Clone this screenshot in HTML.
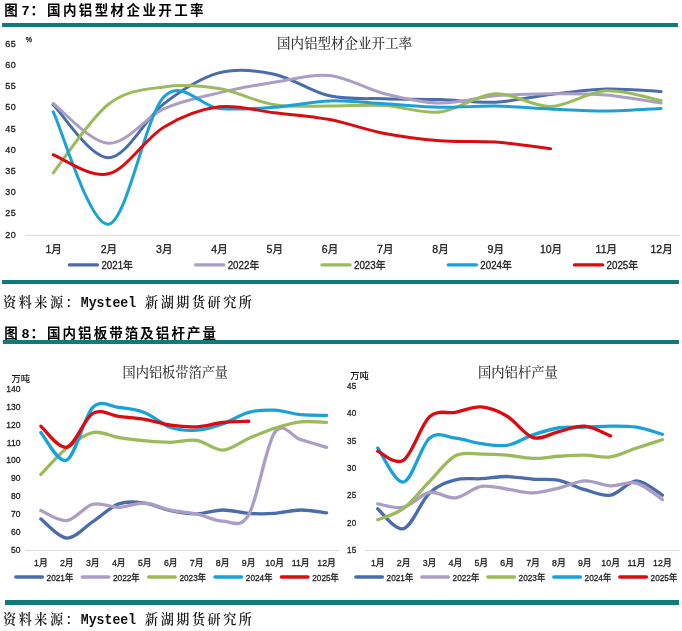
<!DOCTYPE html>
<html lang="zh-CN"><head><meta charset="utf-8"><title>国内铝型材企业开工率</title>
<style>
html,body{margin:0;padding:0;background:#fff;}
#pg{position:relative;width:682px;height:631px;overflow:hidden;background:#fff;}
.bar{position:absolute;background:#0f7a76;}
svg{position:absolute;left:0;top:0;}
svg text[fill="#222"]{stroke:#222;stroke-width:.3px;}
</style></head><body><div id="pg">
<div class="bar" style="left:2px;top:23px;width:676px;height:4px"></div>
<div class="bar" style="left:2px;top:280px;width:677px;height:4px"></div>
<div class="bar" style="left:3px;top:340px;width:676px;height:4px"></div>
<div class="bar" style="left:5px;top:600.3px;width:673.8px;height:4.4px"></div>
<svg width="682" height="631" viewBox="0 0 682 631" font-family="&quot;Liberation Sans&quot;, &quot;Noto Sans CJK SC&quot;, sans-serif">
<text x="4.3" y="14.60" font-weight="bold" font-size="13.5" fill="#000">图 <tspan x="21.8">7</tspan><tspan x="30.5">：</tspan><tspan x="47" letter-spacing="2.4">国内铝型材企业开工率</tspan></text>
<text x="4.3" y="338.20" font-weight="bold" font-size="13.5" fill="#000">图 <tspan x="21.8">8</tspan><tspan x="30.5">：</tspan><tspan x="47" letter-spacing="2.05">国内铝板带箔及铝杆产量</tspan></text>
<text x="3.00" y="307.40" font-family="&quot;Noto Serif CJK SC&quot;, serif" font-weight="600" font-size="13.1" fill="#111" letter-spacing="2.55">资料来源：</text>
<text transform="translate(80.8 306.60) scale(1 1.1)" font-family="&quot;Liberation Mono&quot;, monospace" font-weight="bold" font-size="13.2" fill="#111">Mysteel</text>
<text x="145.00" y="307.40" font-family="&quot;Noto Serif CJK SC&quot;, serif" font-weight="600" font-size="13.1" fill="#111" letter-spacing="2.55">新湖期货研究所</text>
<text x="3.00" y="623.80" font-family="&quot;Noto Serif CJK SC&quot;, serif" font-weight="600" font-size="13.1" fill="#111" letter-spacing="2.55">资料来源：</text>
<text transform="translate(80.8 623.90) scale(1 1.1)" font-family="&quot;Liberation Mono&quot;, monospace" font-weight="bold" font-size="13.2" fill="#111">Mysteel</text>
<text x="145.00" y="623.80" font-family="&quot;Noto Serif CJK SC&quot;, serif" font-weight="600" font-size="13.1" fill="#111" letter-spacing="2.55">新湖期货研究所</text>
<text x="16.30" y="237.60" text-anchor="end" font-size="9" letter-spacing="0.5" fill="#222">20</text>
<text x="16.30" y="216.40" text-anchor="end" font-size="9" letter-spacing="0.5" fill="#222">25</text>
<text x="16.30" y="195.20" text-anchor="end" font-size="9" letter-spacing="0.5" fill="#222">30</text>
<text x="16.30" y="174.00" text-anchor="end" font-size="9" letter-spacing="0.5" fill="#222">35</text>
<text x="16.30" y="152.80" text-anchor="end" font-size="9" letter-spacing="0.5" fill="#222">40</text>
<text x="16.30" y="131.60" text-anchor="end" font-size="9" letter-spacing="0.5" fill="#222">45</text>
<text x="16.30" y="110.40" text-anchor="end" font-size="9" letter-spacing="0.5" fill="#222">50</text>
<text x="16.30" y="89.20" text-anchor="end" font-size="9" letter-spacing="0.5" fill="#222">55</text>
<text x="16.30" y="68.00" text-anchor="end" font-size="9" letter-spacing="0.5" fill="#222">60</text>
<text x="16.30" y="46.80" text-anchor="end" font-size="9" letter-spacing="0.5" fill="#222">65</text>
<text x="25.80" y="42.30" font-size="7" fill="#222">%</text>
<text x="344.50" y="47.80" text-anchor="middle" font-size="13.5" fill="#333" font-weight="500" font-family="&quot;Noto Serif CJK SC&quot;, serif">国内铝型材企业开工率</text>
<line x1="25.5" y1="235.3" x2="679.5" y2="235.3" stroke="#d9d9d9" stroke-width="1"/>
<text x="53.70" y="253.10" text-anchor="middle" font-size="10.5" fill="#222">1月</text>
<text x="108.96" y="253.10" text-anchor="middle" font-size="10.5" fill="#222">2月</text>
<text x="164.22" y="253.10" text-anchor="middle" font-size="10.5" fill="#222">3月</text>
<text x="219.48" y="253.10" text-anchor="middle" font-size="10.5" fill="#222">4月</text>
<text x="274.74" y="253.10" text-anchor="middle" font-size="10.5" fill="#222">5月</text>
<text x="330.00" y="253.10" text-anchor="middle" font-size="10.5" fill="#222">6月</text>
<text x="385.26" y="253.10" text-anchor="middle" font-size="10.5" fill="#222">7月</text>
<text x="440.52" y="253.10" text-anchor="middle" font-size="10.5" fill="#222">8月</text>
<text x="495.78" y="253.10" text-anchor="middle" font-size="10.5" fill="#222">9月</text>
<text x="551.04" y="253.10" text-anchor="middle" font-size="10.5" fill="#222">10月</text>
<text x="606.30" y="253.10" text-anchor="middle" font-size="10.5" fill="#222">11月</text>
<text x="661.56" y="253.10" text-anchor="middle" font-size="10.5" fill="#222">12月</text>
<line x1="69.3" y1="264.9" x2="97.5" y2="264.9" stroke="#4a6caa" stroke-width="3.2" stroke-linecap="round"/>
<text transform="translate(101.40 268.6) scale(0.93 1)" font-size="10.5" fill="#222">2021年</text>
<line x1="195.6" y1="264.9" x2="223.8" y2="264.9" stroke="#aa9ec4" stroke-width="3.2" stroke-linecap="round"/>
<text transform="translate(227.70 268.6) scale(0.93 1)" font-size="10.5" fill="#222">2022年</text>
<line x1="321.9" y1="264.9" x2="350.1" y2="264.9" stroke="#9bba5a" stroke-width="3.2" stroke-linecap="round"/>
<text transform="translate(354.00 268.6) scale(0.93 1)" font-size="10.5" fill="#222">2023年</text>
<line x1="448.2" y1="264.9" x2="476.4" y2="264.9" stroke="#18a2d8" stroke-width="3.2" stroke-linecap="round"/>
<text transform="translate(480.30 268.6) scale(0.93 1)" font-size="10.5" fill="#222">2024年</text>
<line x1="574.5" y1="264.9" x2="602.7" y2="264.9" stroke="#dc0b10" stroke-width="3.2" stroke-linecap="round"/>
<text transform="translate(606.60 268.6) scale(0.93 1)" font-size="10.5" fill="#222">2025年</text>
<path d="M53.20 104.71 C62.41 113.54 90.04 157.85 108.46 157.71 C126.88 157.57 145.30 117.99 163.72 103.86 C182.14 89.73 200.56 77.85 218.98 72.91 C237.40 67.96 255.82 70.36 274.24 74.18 C292.66 78.00 311.08 91.71 329.50 95.80 C347.92 99.90 366.34 98.14 384.76 98.77 C403.18 99.41 421.60 99.05 440.02 99.62 C458.44 100.19 476.86 103.01 495.28 102.16 C513.70 101.32 532.12 96.72 550.54 94.53 C568.96 92.34 587.38 89.51 605.80 89.02 C624.22 88.53 651.85 91.14 661.06 91.56" fill="none" stroke="#4a6caa" stroke-width="3" stroke-linecap="round" stroke-linejoin="round"/>
<path d="M53.20 103.44 C62.41 110.08 90.04 142.37 108.46 143.29 C126.88 144.21 145.30 117.36 163.72 108.95 C182.14 100.54 200.56 97.29 218.98 92.84 C237.40 88.38 255.82 85.13 274.24 82.24 C292.66 79.34 311.08 73.54 329.50 75.45 C347.92 77.36 366.34 89.09 384.76 93.68 C403.18 98.28 421.60 102.66 440.02 103.01 C458.44 103.37 476.86 97.36 495.28 95.80 C513.70 94.25 532.12 93.83 550.54 93.68 C568.96 93.54 587.38 93.40 605.80 94.96 C624.22 96.51 651.85 101.67 661.06 103.01" fill="none" stroke="#aa9ec4" stroke-width="3" stroke-linecap="round" stroke-linejoin="round"/>
<path d="M53.20 172.97 C62.41 161.52 90.04 118.63 108.46 104.28 C126.88 89.94 145.30 89.51 163.72 86.90 C182.14 84.29 200.56 85.63 218.98 88.60 C237.40 91.56 255.82 101.81 274.24 104.71 C292.66 107.61 311.08 105.84 329.50 105.98 C347.92 106.12 366.34 104.57 384.76 105.56 C403.18 106.55 421.60 113.89 440.02 111.92 C458.44 109.94 476.86 94.60 495.28 93.68 C513.70 92.77 532.12 106.90 550.54 106.40 C568.96 105.91 587.38 91.71 605.80 90.72 C624.22 89.73 651.85 98.84 661.06 100.47" fill="none" stroke="#9bba5a" stroke-width="3" stroke-linecap="round" stroke-linejoin="round"/>
<path d="M53.20 111.92 C62.41 130.64 90.04 226.75 108.46 224.28 C126.88 221.80 145.30 116.37 163.72 97.08 C182.14 77.78 200.56 106.83 218.98 108.52 C237.40 110.22 255.82 108.52 274.24 107.25 C292.66 105.98 311.08 101.46 329.50 100.89 C347.92 100.33 366.34 102.80 384.76 103.86 C403.18 104.92 421.60 106.90 440.02 107.25 C458.44 107.61 476.86 105.70 495.28 105.98 C513.70 106.26 532.12 108.10 550.54 108.95 C568.96 109.80 587.38 111.14 605.80 111.07 C624.22 111.00 651.85 108.95 661.06 108.52" fill="none" stroke="#18a2d8" stroke-width="3" stroke-linecap="round" stroke-linejoin="round"/>
<path d="M53.20 154.74 C62.41 157.92 90.04 178.41 108.46 173.82 C126.88 169.23 145.30 138.35 163.72 127.18 C182.14 116.01 200.56 109.23 218.98 106.83 C237.40 104.43 255.82 110.64 274.24 112.76 C292.66 114.88 311.08 116.09 329.50 119.55 C347.92 123.01 366.34 130.01 384.76 133.54 C403.18 137.07 421.60 139.33 440.02 140.75 C458.44 142.16 476.86 140.68 495.28 142.02 C513.70 143.36 541.33 147.67 550.54 148.80" fill="none" stroke="#dc0b10" stroke-width="3" stroke-linecap="round" stroke-linejoin="round"/>
<text transform="translate(20.4 552.87) scale(0.9 1)" text-anchor="end" font-size="9.5" fill="#222">50</text>
<text transform="translate(20.4 534.98) scale(0.9 1)" text-anchor="end" font-size="9.5" fill="#222">60</text>
<text transform="translate(20.4 517.09) scale(0.9 1)" text-anchor="end" font-size="9.5" fill="#222">70</text>
<text transform="translate(20.4 499.20) scale(0.9 1)" text-anchor="end" font-size="9.5" fill="#222">80</text>
<text transform="translate(20.4 481.31) scale(0.9 1)" text-anchor="end" font-size="9.5" fill="#222">90</text>
<text transform="translate(20.4 463.42) scale(0.9 1)" text-anchor="end" font-size="9.5" fill="#222">100</text>
<text transform="translate(20.4 445.53) scale(0.9 1)" text-anchor="end" font-size="9.5" fill="#222">110</text>
<text transform="translate(20.4 427.64) scale(0.9 1)" text-anchor="end" font-size="9.5" fill="#222">120</text>
<text transform="translate(20.4 409.75) scale(0.9 1)" text-anchor="end" font-size="9.5" fill="#222">130</text>
<text transform="translate(20.4 391.86) scale(0.9 1)" text-anchor="end" font-size="9.5" fill="#222">140</text>
<text x="11.50" y="382.30" font-size="9.3" font-weight="500" fill="#111">万吨</text>
<text x="175.30" y="376.50" text-anchor="middle" font-size="13.2" fill="#333" font-weight="500" font-family="&quot;Noto Serif CJK SC&quot;, serif">国内铝板带箔产量</text>
<line x1="25.3" y1="550.5" x2="339.5" y2="550.5" stroke="#d9d9d9" stroke-width="1"/>
<text transform="translate(40.85 566.1) scale(0.93 1)" text-anchor="middle" font-size="9.5" fill="#222">1月</text>
<text transform="translate(66.83 566.1) scale(0.93 1)" text-anchor="middle" font-size="9.5" fill="#222">2月</text>
<text transform="translate(92.81 566.1) scale(0.93 1)" text-anchor="middle" font-size="9.5" fill="#222">3月</text>
<text transform="translate(118.79 566.1) scale(0.93 1)" text-anchor="middle" font-size="9.5" fill="#222">4月</text>
<text transform="translate(144.77 566.1) scale(0.93 1)" text-anchor="middle" font-size="9.5" fill="#222">5月</text>
<text transform="translate(170.75 566.1) scale(0.93 1)" text-anchor="middle" font-size="9.5" fill="#222">6月</text>
<text transform="translate(196.73 566.1) scale(0.93 1)" text-anchor="middle" font-size="9.5" fill="#222">7月</text>
<text transform="translate(222.71 566.1) scale(0.93 1)" text-anchor="middle" font-size="9.5" fill="#222">8月</text>
<text transform="translate(248.69 566.1) scale(0.93 1)" text-anchor="middle" font-size="9.5" fill="#222">9月</text>
<text transform="translate(274.67 566.1) scale(0.93 1)" text-anchor="middle" font-size="9.5" fill="#222">10月</text>
<text transform="translate(300.65 566.1) scale(0.93 1)" text-anchor="middle" font-size="9.5" fill="#222">11月</text>
<text transform="translate(326.63 566.1) scale(0.93 1)" text-anchor="middle" font-size="9.5" fill="#222">12月</text>
<line x1="15.85" y1="577" x2="42.35" y2="577" stroke="#4a6caa" stroke-width="3.5" stroke-linecap="round"/>
<text transform="translate(46.60 580.5) scale(0.87 1)" font-size="9.5" fill="#222">2021年</text>
<line x1="82.25" y1="577" x2="108.75" y2="577" stroke="#aa9ec4" stroke-width="3.5" stroke-linecap="round"/>
<text transform="translate(113.00 580.5) scale(0.87 1)" font-size="9.5" fill="#222">2022年</text>
<line x1="148.65" y1="577" x2="175.15" y2="577" stroke="#9bba5a" stroke-width="3.5" stroke-linecap="round"/>
<text transform="translate(179.40 580.5) scale(0.87 1)" font-size="9.5" fill="#222">2023年</text>
<line x1="215.05" y1="577" x2="241.55" y2="577" stroke="#18a2d8" stroke-width="3.5" stroke-linecap="round"/>
<text transform="translate(245.80 580.5) scale(0.87 1)" font-size="9.5" fill="#222">2024年</text>
<line x1="281.45" y1="577" x2="307.95" y2="577" stroke="#dc0b10" stroke-width="3.5" stroke-linecap="round"/>
<text transform="translate(312.20 580.5) scale(0.87 1)" font-size="9.5" fill="#222">2025年</text>
<path d="M40.85 518.93 C45.18 522.13 58.17 537.63 66.83 538.08 C75.49 538.52 84.15 527.31 92.81 521.62 C101.47 515.92 110.13 506.98 118.79 503.91 C127.45 500.84 136.11 502.06 144.77 503.19 C153.43 504.32 162.09 508.92 170.75 510.71 C179.41 512.49 188.07 514.04 196.73 513.93 C205.39 513.81 214.05 510.08 222.71 509.99 C231.37 509.90 240.03 512.82 248.69 513.39 C257.35 513.96 266.01 513.96 274.67 513.39 C283.33 512.82 291.99 510.08 300.65 509.99 C309.31 509.90 322.30 512.38 326.63 512.85" fill="none" stroke="#4a6caa" stroke-width="3.3" stroke-linecap="round" stroke-linejoin="round"/>
<path d="M40.85 510.53 C45.18 512.20 58.17 521.59 66.83 520.54 C75.49 519.50 84.15 506.47 92.81 504.26 C101.47 502.06 110.13 507.49 118.79 507.31 C127.45 507.13 136.11 502.71 144.77 503.19 C153.43 503.67 162.09 508.38 170.75 510.17 C179.41 511.96 188.07 512.11 196.73 513.93 C205.39 515.74 214.05 520.93 222.71 521.08 C231.37 521.23 240.03 529.58 248.69 514.82 C257.35 500.06 266.01 445.05 274.67 432.53 C283.33 420.00 291.99 437.21 300.65 439.68 C309.31 442.16 322.30 446.09 326.63 447.37" fill="none" stroke="#aa9ec4" stroke-width="3.3" stroke-linecap="round" stroke-linejoin="round"/>
<path d="M40.85 474.39 C45.18 469.98 58.17 454.89 66.83 447.91 C75.49 440.93 84.15 434.26 92.81 432.53 C101.47 430.80 110.13 436.16 118.79 437.54 C127.45 438.91 136.11 439.95 144.77 440.76 C153.43 441.56 162.09 442.43 170.75 442.37 C179.41 442.31 188.07 439.12 196.73 440.40 C205.39 441.68 214.05 450.39 222.71 450.06 C231.37 449.73 240.03 442.07 248.69 438.43 C257.35 434.79 266.01 431.01 274.67 428.23 C283.33 425.46 291.99 422.78 300.65 421.79 C309.31 420.81 322.30 422.24 326.63 422.33" fill="none" stroke="#9bba5a" stroke-width="3.3" stroke-linecap="round" stroke-linejoin="round"/>
<path d="M40.85 432.53 C45.18 437.12 58.17 464.25 66.83 460.08 C75.49 455.90 84.15 416.25 92.81 407.48 C101.47 398.71 110.13 406.62 118.79 407.48 C127.45 408.34 136.11 409.33 144.77 412.67 C153.43 416.01 162.09 424.59 170.75 427.52 C179.41 430.44 188.07 430.80 196.73 430.20 C205.39 429.60 214.05 426.92 222.71 423.94 C231.37 420.96 240.03 414.61 248.69 412.31 C257.35 410.01 266.01 409.78 274.67 410.16 C283.33 410.55 291.99 413.77 300.65 414.64 C309.31 415.50 322.30 415.23 326.63 415.35" fill="none" stroke="#18a2d8" stroke-width="3.3" stroke-linecap="round" stroke-linejoin="round"/>
<path d="M40.85 426.26 C45.18 429.75 58.17 449.34 66.83 447.20 C75.49 445.05 84.15 418.51 92.81 413.38 C101.47 408.26 110.13 415.44 118.79 416.43 C127.45 417.41 136.11 417.83 144.77 419.29 C153.43 420.75 162.09 423.94 170.75 425.19 C179.41 426.44 188.07 427.25 196.73 426.80 C205.39 426.35 214.05 423.43 222.71 422.51 C231.37 421.58 244.36 421.46 248.69 421.26" fill="none" stroke="#dc0b10" stroke-width="3.3" stroke-linecap="round" stroke-linejoin="round"/>
<text transform="translate(356.8 553.10) scale(0.9 1)" text-anchor="end" font-size="9" letter-spacing="0.5" fill="#222">15</text>
<text transform="translate(356.8 525.70) scale(0.9 1)" text-anchor="end" font-size="9" letter-spacing="0.5" fill="#222">20</text>
<text transform="translate(356.8 498.30) scale(0.9 1)" text-anchor="end" font-size="9" letter-spacing="0.5" fill="#222">25</text>
<text transform="translate(356.8 470.90) scale(0.9 1)" text-anchor="end" font-size="9" letter-spacing="0.5" fill="#222">30</text>
<text transform="translate(356.8 443.50) scale(0.9 1)" text-anchor="end" font-size="9" letter-spacing="0.5" fill="#222">35</text>
<text transform="translate(356.8 416.10) scale(0.9 1)" text-anchor="end" font-size="9" letter-spacing="0.5" fill="#222">40</text>
<text transform="translate(356.8 388.70) scale(0.9 1)" text-anchor="end" font-size="9" letter-spacing="0.5" fill="#222">45</text>
<text x="350.20" y="378.60" font-size="9.3" font-weight="500" fill="#111">万吨</text>
<text x="517.90" y="376.80" text-anchor="middle" font-size="13.3" fill="#333" font-weight="500" font-family="&quot;Noto Serif CJK SC&quot;, serif">国内铝杆产量</text>
<line x1="364.8" y1="550.5" x2="680" y2="550.5" stroke="#d9d9d9" stroke-width="1"/>
<text transform="translate(377.75 566.1) scale(0.93 1)" text-anchor="middle" font-size="9.5" fill="#222">1月</text>
<text transform="translate(403.63 566.1) scale(0.93 1)" text-anchor="middle" font-size="9.5" fill="#222">2月</text>
<text transform="translate(429.51 566.1) scale(0.93 1)" text-anchor="middle" font-size="9.5" fill="#222">3月</text>
<text transform="translate(455.39 566.1) scale(0.93 1)" text-anchor="middle" font-size="9.5" fill="#222">4月</text>
<text transform="translate(481.27 566.1) scale(0.93 1)" text-anchor="middle" font-size="9.5" fill="#222">5月</text>
<text transform="translate(507.15 566.1) scale(0.93 1)" text-anchor="middle" font-size="9.5" fill="#222">6月</text>
<text transform="translate(533.03 566.1) scale(0.93 1)" text-anchor="middle" font-size="9.5" fill="#222">7月</text>
<text transform="translate(558.91 566.1) scale(0.93 1)" text-anchor="middle" font-size="9.5" fill="#222">8月</text>
<text transform="translate(584.79 566.1) scale(0.93 1)" text-anchor="middle" font-size="9.5" fill="#222">9月</text>
<text transform="translate(610.67 566.1) scale(0.93 1)" text-anchor="middle" font-size="9.5" fill="#222">10月</text>
<text transform="translate(636.55 566.1) scale(0.93 1)" text-anchor="middle" font-size="9.5" fill="#222">11月</text>
<text transform="translate(662.43 566.1) scale(0.93 1)" text-anchor="middle" font-size="9.5" fill="#222">12月</text>
<line x1="355.85" y1="577" x2="382.35" y2="577" stroke="#4a6caa" stroke-width="3.5" stroke-linecap="round"/>
<text transform="translate(386.60 580.5) scale(0.87 1)" font-size="9.5" fill="#222">2021年</text>
<line x1="421.85" y1="577" x2="448.35" y2="577" stroke="#aa9ec4" stroke-width="3.5" stroke-linecap="round"/>
<text transform="translate(452.60 580.5) scale(0.87 1)" font-size="9.5" fill="#222">2022年</text>
<line x1="487.85" y1="577" x2="514.35" y2="577" stroke="#9bba5a" stroke-width="3.5" stroke-linecap="round"/>
<text transform="translate(518.60 580.5) scale(0.87 1)" font-size="9.5" fill="#222">2023年</text>
<line x1="553.85" y1="577" x2="580.35" y2="577" stroke="#18a2d8" stroke-width="3.5" stroke-linecap="round"/>
<text transform="translate(584.60 580.5) scale(0.87 1)" font-size="9.5" fill="#222">2024年</text>
<line x1="619.85" y1="577" x2="646.35" y2="577" stroke="#dc0b10" stroke-width="3.5" stroke-linecap="round"/>
<text transform="translate(650.60 580.5) scale(0.87 1)" font-size="9.5" fill="#222">2025年</text>
<path d="M377.75 508.85 C382.06 512.14 395.00 531.23 403.63 528.58 C412.26 525.93 420.88 501.09 429.51 492.96 C438.14 484.83 446.76 482.18 455.39 479.81 C464.02 477.43 472.64 479.26 481.27 478.71 C489.90 478.16 498.52 476.43 507.15 476.52 C515.78 476.61 524.40 478.62 533.03 479.26 C541.66 479.90 550.28 478.62 558.91 480.36 C567.54 482.09 576.16 487.21 584.79 489.67 C593.42 492.14 602.04 496.61 610.67 495.15 C619.30 493.69 627.92 480.90 636.55 480.90 C645.18 480.90 658.12 492.78 662.43 495.15" fill="none" stroke="#4a6caa" stroke-width="3.3" stroke-linecap="round" stroke-linejoin="round"/>
<path d="M377.75 503.92 C382.06 504.47 395.00 509.13 403.63 507.21 C412.26 505.29 420.88 493.96 429.51 492.41 C438.14 490.86 446.76 498.90 455.39 497.89 C464.02 496.89 472.64 487.85 481.27 486.38 C489.90 484.92 498.52 488.03 507.15 489.12 C515.78 490.22 524.40 493.14 533.03 492.96 C541.66 492.78 550.28 490.04 558.91 488.03 C567.54 486.02 576.16 481.27 584.79 480.90 C593.42 480.54 602.04 485.47 610.67 485.84 C619.30 486.20 627.92 480.81 636.55 483.10 C645.18 485.38 658.12 496.80 662.43 499.54" fill="none" stroke="#aa9ec4" stroke-width="3.3" stroke-linecap="round" stroke-linejoin="round"/>
<path d="M377.75 519.81 C382.06 517.89 395.00 514.70 403.63 508.30 C412.26 501.91 420.88 490.22 429.51 481.45 C438.14 472.68 446.76 460.26 455.39 455.70 C464.02 451.13 472.64 454.14 481.27 454.05 C489.90 453.96 498.52 454.42 507.15 455.15 C515.78 455.88 524.40 458.25 533.03 458.44 C541.66 458.62 550.28 456.79 558.91 456.24 C567.54 455.70 576.16 455.06 584.79 455.15 C593.42 455.24 602.04 457.98 610.67 456.79 C619.30 455.60 627.92 450.86 636.55 448.02 C645.18 445.19 658.12 441.17 662.43 439.80" fill="none" stroke="#9bba5a" stroke-width="3.3" stroke-linecap="round" stroke-linejoin="round"/>
<path d="M377.75 448.02 C382.06 453.69 395.00 483.64 403.63 482.00 C412.26 480.36 420.88 445.47 429.51 438.16 C438.14 430.85 446.76 437.25 455.39 438.16 C464.02 439.07 472.64 442.45 481.27 443.64 C489.90 444.83 498.52 446.75 507.15 445.28 C515.78 443.82 524.40 437.79 533.03 434.87 C541.66 431.95 550.28 429.03 558.91 427.75 C567.54 426.47 576.16 427.47 584.79 427.20 C593.42 426.93 602.04 426.10 610.67 426.10 C619.30 426.10 627.92 425.83 636.55 427.20 C645.18 428.57 658.12 433.14 662.43 434.32" fill="none" stroke="#18a2d8" stroke-width="3.3" stroke-linecap="round" stroke-linejoin="round"/>
<path d="M377.75 451.31 C382.06 452.77 395.00 465.83 403.63 460.08 C412.26 454.33 420.88 424.73 429.51 416.79 C438.14 408.84 446.76 414.05 455.39 412.40 C464.02 410.76 472.64 406.28 481.27 406.92 C489.90 407.56 498.52 411.13 507.15 416.24 C515.78 421.35 524.40 435.05 533.03 437.61 C541.66 440.17 550.28 433.50 558.91 431.58 C567.54 429.67 576.16 425.37 584.79 426.10 C593.42 426.83 606.36 434.32 610.67 435.97" fill="none" stroke="#dc0b10" stroke-width="3.3" stroke-linecap="round" stroke-linejoin="round"/>
</svg>
</div></body></html>
